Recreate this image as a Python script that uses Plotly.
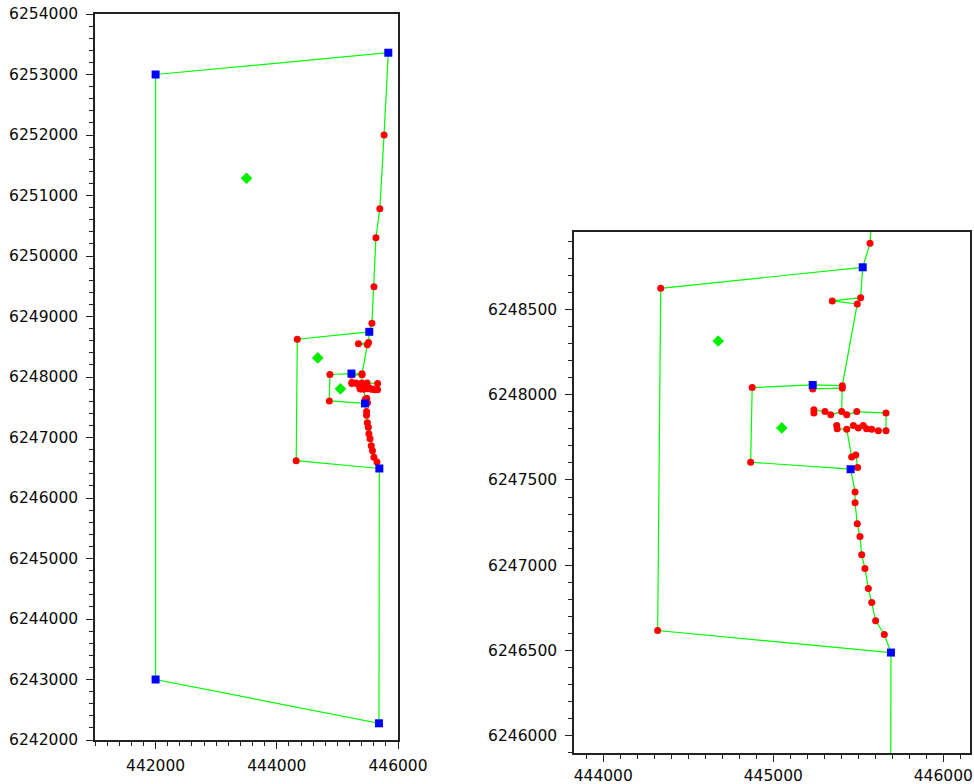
import plotly.graph_objects as go

# ---- Node data (Easting, Northing) ----
# Blue squares (sources / tanks)
blue_x = [442000, 445840, 445526, 445232, 445455, 445692, 442000, 445686]
blue_y = [6253000, 6253360, 6248747, 6248057, 6247563, 6246488, 6243000, 6242276]

# Red circles (junctions)
red_x = [445770, 445700, 445636, 445603, 445569, 444338, 444320, 445347, 445514, 445494,
         444876, 445232, 445406, 445406, 444867,
         445239, 445239, 445304, 445338, 445402, 445432, 445491, 445663,
         445373, 445376, 445432, 445471, 445500, 445529, 445549, 445579, 445618, 445663,
         445461, 445485, 445496, 445481, 445481, 445494, 445510, 445520, 445539, 445559,
         445579, 445602, 445653]
red_y = [6252000, 6250780, 6250300, 6249490, 6248888, 6248624, 6246617, 6248550, 6248569, 6248532,
         6248042, 6248034, 6248053, 6248038, 6247604,
         6247911, 6247892, 6247901, 6247882, 6247901, 6247882, 6247901, 6247892,
         6247819, 6247800, 6247798, 6247819, 6247804, 6247819, 6247800, 6247798, 6247788, 6247788,
         6247634, 6247647, 6247573, 6247430, 6247366, 6247243, 6247168, 6247061, 6246981, 6246863,
         6246781, 6246674, 6246594]

# Green diamonds
dia_x = [443500, 444676, 445050]
dia_y = [6251285, 6248315, 6247805]

# ---- Pipe routes (polylines) ----
outer_east_x = [442000, 445840, 445770, 445700, 445636, 445603, 445569, 445526]
outer_east_y = [6253000, 6253360, 6252000, 6250780, 6250300, 6249490, 6248888, 6248747]

west_loop_x = [445526, 444338, 444320, 445692]
west_loop_y = [6248747, 6248624, 6246617, 6246488]

outer_south_x = [442000, 442000, 445686, 445692]
outer_south_y = [6253000, 6243000, 6242276, 6246488]

spur_x = [445526, 445514, 445347, 445494, 445406]
spur_y = [6248747, 6248569, 6248550, 6248532, 6248053]

inner_x = [444867, 444876, 445232, 445406]
inner_y = [6247604, 6248042, 6248057, 6248053]

inner2_x = [445232, 445406, 445402]
inner2_y = [6248034, 6248038, 6247901]

inner_s_x = [444867, 445455]
inner_s_y = [6247604, 6247563]

rows_x = [445239, 445239, 445304, 445338, 445402, 445432, 445491, 445663, 445663, 445618,
          445579, 445549, 445529, 445500, 445471, 445432, 445376, 445373]
rows_y = [6247892, 6247911, 6247901, 6247882, 6247901, 6247882, 6247901, 6247892, 6247788, 6247788,
          6247798, 6247800, 6247819, 6247804, 6247819, 6247798, 6247800, 6247819]

chain_x = [445432, 445461, 445485, 445496, 445455, 445481, 445481, 445494, 445510, 445520,
           445539, 445559, 445579, 445602, 445653, 445692]
chain_y = [6247798, 6247634, 6247647, 6247573, 6247563, 6247430, 6247366, 6247243, 6247168, 6247061,
           6246981, 6246863, 6246781, 6246674, 6246594, 6246488]

routes = [(outer_east_x, outer_east_y), (west_loop_x, west_loop_y), (outer_south_x, outer_south_y),
          (spur_x, spur_y), (inner_x, inner_y), (inner2_x, inner2_y), (inner_s_x, inner_s_y),
          (rows_x, rows_y), (chain_x, chain_y)]

pipe_x, pipe_y = [], []
for rx, ry in routes:
    pipe_x += list(rx) + [None]
    pipe_y += list(ry) + [None]

LINE = "#00ff00"
fig = go.Figure()
for xa, ya in (("x", "y"), ("x2", "y2")):
    fig.add_trace(go.Scatter(x=pipe_x, y=pipe_y, mode="lines", line=dict(color=LINE, width=1.2),
                             xaxis=xa, yaxis=ya, hoverinfo="skip", showlegend=False))
    fig.add_trace(go.Scatter(x=dia_x, y=dia_y, mode="markers",
                             marker=dict(symbol="diamond", size=9, color="#00ee00", line=dict(width=0)),
                             xaxis=xa, yaxis=ya, showlegend=False))
    fig.add_trace(go.Scatter(x=red_x, y=red_y, mode="markers",
                             marker=dict(symbol="circle", size=7, color="#ff0000", line=dict(width=0)),
                             xaxis=xa, yaxis=ya, showlegend=False))
    fig.add_trace(go.Scatter(x=blue_x, y=blue_y, mode="markers",
                             marker=dict(symbol="square", size=8, color="#0000ff", line=dict(width=0)),
                             xaxis=xa, yaxis=ya, showlegend=False))

W, H = 974, 784
font = dict(family="DejaVu Sans", size=15.5, color="#0a0a0a")


def dx(a, b):
    return [a / W, b / W]


def dy(top, bottom):
    return [1 - bottom / H, 1 - top / H]


def ax(rng, dom, dtick, mdtick, anchor, standoff):
    return dict(range=rng, domain=dom, dtick=dtick, tick0=0, tickformat="d", showgrid=False,
                zeroline=False, showline=True, linecolor="#222222", linewidth=1.5, mirror=True,
                ticks="outside", ticklen=7, tickwidth=1.3, tickcolor="#222222", tickfont=font,
                ticklabelstandoff=standoff,
                minor=dict(dtick=mdtick, tick0=0, ticks="outside", ticklen=4, tickwidth=1.2,
                           tickcolor="#222222", showgrid=False),
                anchor=anchor, fixedrange=True, automargin=False)


fig.update_layout(
    width=W, height=H, margin=dict(l=0, r=0, t=0, b=0, autoexpand=False),
    paper_bgcolor="white", plot_bgcolor="white", showlegend=False,
    xaxis=ax([441000, 446000], dx(95, 398), 2000, 200, "y", 4),
    yaxis=ax([6242000, 6254000], dy(14, 740), 1000, 200, "x", 5),
    xaxis2=ax([443828, 446157], dx(574, 970), 1000, 100, "y2", 1),
    yaxis2=ax([6245899, 6248954], dy(232, 753), 500, 100, "x2", 5),
)

fig.write_html("out.html", config={"displayModeBar": False},
               post_script="document.body.style.margin='0';document.body.style.overflow='hidden';")
